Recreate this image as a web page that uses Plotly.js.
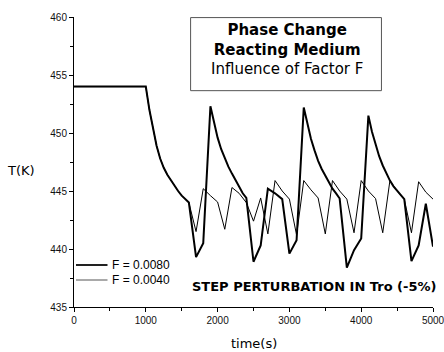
<!DOCTYPE html>
<html>
<head>
<meta charset="utf-8">
<script src="https://cdn.plot.ly/plotly-3.0.1.min.js"></script>
<style>html,body{margin:0;padding:0;background:#fff;}#chart{width:444px;height:352px;}</style>
</head>
<body>
<div id="chart"></div>
<script>
// F = 0.0080 (thick line)
var timeF008 = [0, 1000, 1050, 1100, 1150, 1200, 1250, 1300, 1350, 1400, 1450, 1500, 1550, 1600,
  1700, 1800, 1900, 1950, 2000, 2050, 2100, 2150, 2200, 2250, 2300, 2350, 2400,
  2500, 2600, 2700, 2800, 2900, 3000, 3100, 3200, 3250, 3300, 3350, 3400, 3450, 3500, 3550, 3600, 3650, 3700,
  3800, 3900, 4000, 4100, 4150, 4200, 4250, 4300, 4350, 4400, 4450, 4500, 4550, 4600,
  4700, 4800, 4900, 5000];
var tempF008 = [454, 454, 452.0, 450.3, 448.9, 447.8, 447.0, 446.4, 445.9, 445.4, 445.0, 444.6, 444.3, 444.0,
  439.3, 440.5, 452.3, 450.8, 449.6, 448.6, 447.8, 447.1, 446.5, 445.9, 445.3, 444.8, 444.4,
  438.9, 440.3, 445.2, 444.8, 444.3, 439.6, 440.75, 452.2, 450.7, 449.5, 448.5, 447.6, 446.9, 446.3, 445.7, 445.2, 444.8, 444.35,
  438.4, 439.9, 440.9, 451.5, 450.1, 449.0, 448.0, 447.2, 446.5, 445.9, 445.4, 445.0, 444.6, 444.3,
  438.95, 440.3, 443.9, 440.2];

// F = 0.0040 (thin line)
var timeF004 = [0, 1000, 1050, 1100, 1150, 1200, 1250, 1300, 1350, 1400, 1450, 1500, 1550, 1600,
  1700, 1800, 1900, 2000, 2100, 2200, 2300, 2400, 2500, 2600, 2700, 2800, 2900, 3000, 3100,
  3200, 3300, 3400, 3500, 3600, 3700, 3800, 3900, 4000, 4100, 4200, 4300, 4400, 4500, 4600,
  4700, 4800, 4900, 5000];
var tempF004 = [454, 454, 452.0, 450.3, 448.9, 447.8, 447.0, 446.4, 445.9, 445.4, 445.0, 444.6, 444.3, 444.0,
  441.5, 445.2, 444.6, 444.05, 441.7, 445.3, 444.8, 444.0, 442.4, 444.4, 441.3, 445.9, 445.0, 444.3, 441.2,
  445.9, 445.1, 444.4, 441.3, 445.9, 445.0, 444.3, 441.4, 445.9, 445.0, 444.35, 441.4, 445.9, 445.0, 444.3,
  441.4, 445.8, 444.9, 444.3];

var seriesNames = ['F = 0.0080', 'F = 0.0040'];
var xTicks = [0, 1000, 2000, 3000, 4000, 5000];
var yTicks = [435, 440, 445, 450, 455, 460];

var traces = [
  {x: timeF008, y: tempF008, name: seriesNames[0], type: 'scatter', mode: 'lines',
   line: {color: '#000', width: 2}},
  {x: timeF004, y: tempF004, name: seriesNames[1], type: 'scatter', mode: 'lines',
   line: {color: '#000', width: 1}}
];

// plot-area pixel geometry helpers (for the hand-drawn legend / labels)
var L = 74, R = 433, T = 17, B = 307;
function px(x) { return (x - L) / (R - L); }
function py(y) { return (B - y) / (B - T); }

var legendRows = [
  {y: 265, width: 2, color: '#222'},
  {y: 280, width: 1, color: '#555'}
];

var shapes = [
  {type: 'rect', xref: 'x', yref: 'y', x0: 1624, x1: 4282, y0: 453.65, y1: 459.95,
   line: {color: '#555', width: 1}, fillcolor: 'rgba(0,0,0,0)'}
];
var annotations = [
  {xref: 'paper', yref: 'paper', x: px(287.3), y: py(49),
   xanchor: 'center', yanchor: 'middle', showarrow: false, align: 'center',
   text: '<b>Phase Change</b><br><b>Reacting Medium</b><br>Influence of Factor F',
   font: {family: 'DejaVu Sans, Verdana, sans-serif', size: 15, color: '#000'}},
  {xref: 'paper', yref: 'paper', x: px(437.5), y: py(286),
   xanchor: 'right', yanchor: 'middle', showarrow: false,
   text: '<b>STEP PERTURBATION IN Tro (-5%)</b>',
   font: {family: 'DejaVu Sans, Verdana, sans-serif', size: 13, color: '#000'}},
  {xref: 'paper', yref: 'paper', x: px(21.5), y: py(170),
   xanchor: 'center', yanchor: 'middle', showarrow: false, text: 'T(K)',
   font: {family: 'DejaVu Sans, Verdana, sans-serif', size: 13, color: '#000'}},
  {xref: 'paper', yref: 'paper', x: 0.5, y: py(343.3),
   xanchor: 'center', yanchor: 'middle', showarrow: false, text: 'time(s)',
   font: {family: 'DejaVu Sans, Verdana, sans-serif', size: 13, color: '#000'}}
];
legendRows.forEach(function (r, i) {
  shapes.push({type: 'line', xref: 'paper', yref: 'paper', x0: px(76), x1: px(107.5), y0: py(r.y), y1: py(r.y),
    line: {color: r.color, width: r.width}});
  annotations.push({xref: 'paper', yref: 'paper', x: px(110), y: py(r.y), xanchor: 'left', yanchor: 'middle',
    showarrow: false, text: seriesNames[i],
    font: {family: 'Liberation Sans, Arial, sans-serif', size: 12, color: '#000'}});
});

var layout = {
  width: 444, height: 352,
  margin: {l: L, r: 444 - R, t: T, b: 352 - B},
  paper_bgcolor: '#fff', plot_bgcolor: '#fff',
  showlegend: false,
  xaxis: {range: [0, 5000], tickvals: xTicks, ticktext: xTicks.map(String),
    showgrid: false, zeroline: false, showline: true, linecolor: '#000', linewidth: 1,
    ticks: 'outside', ticklen: 4, tickcolor: '#000', ticklabeloverflow: 'allow',
    minor: {dtick: 500, tick0: 0, ticks: 'outside', ticklen: 3, tickcolor: '#000', showgrid: false},
    tickfont: {family: 'Liberation Sans, Arial, sans-serif', size: 10, color: '#111'}},
  yaxis: {range: [435, 460], tickvals: yTicks, ticktext: yTicks.map(String),
    showgrid: false, zeroline: false, showline: true, linecolor: '#000', linewidth: 1,
    ticks: 'outside', ticklen: 4, tickcolor: '#000',
    minor: {dtick: 2.5, tick0: 435, ticks: 'outside', ticklen: 3, tickcolor: '#000', showgrid: false},
    tickfont: {family: 'Liberation Sans, Arial, sans-serif', size: 10, color: '#111'}},
  shapes: shapes,
  annotations: annotations
};

Plotly.newPlot('chart', traces, layout, {displayModeBar: false, staticPlot: true});
</script>
</body>
</html>
